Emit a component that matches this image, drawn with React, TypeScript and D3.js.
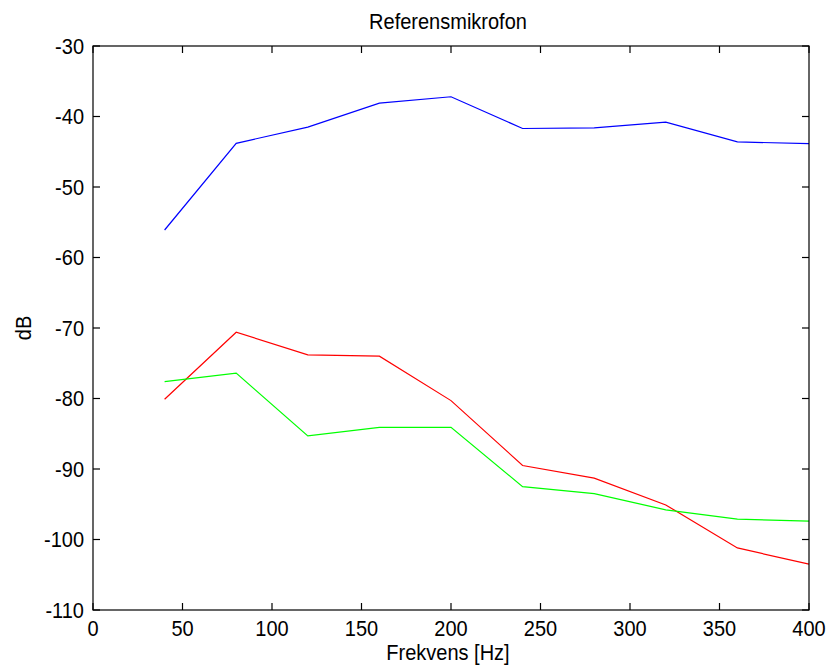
import React from "react";
import * as d3 from "d3";

const frequencies = [40, 80, 120, 160, 200, 240, 280, 320, 360, 400];
const blueSeries = [-56.1, -43.8, -41.5, -38.1, -37.2, -41.7, -41.6, -40.8, -43.6, -43.85];
const redSeries = [-80.1, -70.6, -73.8, -74.0, -80.3, -89.5, -91.3, -95.1, -101.2, -103.5];
const greenSeries = [-77.6, -76.4, -85.3, -84.1, -84.1, -92.5, -93.5, -95.8, -97.1, -97.4];
const xTicks = [0, 50, 100, 150, 200, 250, 300, 350, 400];
const yTicks = [-30, -40, -50, -60, -70, -80, -90, -100, -110];
const titleText = "Referensmikrofon";
const xLabel = "Frekvens [Hz]";
const yLabel = "dB";

const W = 827;
const H = 670;
const left = 93;
const right = 809;
const top = 46;
const bottom = 610;
const FONT = "'Liberation Sans', Arial, Helvetica, sans-serif";
const SY = 1.1;

export default function App() {
  const x = d3.scaleLinear().domain([0, 400]).range([left, right]);
  const y = d3.scaleLinear().domain([-110, -30]).range([bottom, top]);
  const line = d3
    .line<number>()
    .x((_, i) => x(frequencies[i]))
    .y((d) => y(d));
  const series = [
    { values: blueSeries, color: "#0000ff" },
    { values: redSeries, color: "#ff0000" },
    { values: greenSeries, color: "#00ff00" },
  ];
  const tl = 7;
  return (
    <svg
      width={W}
      height={H}
      style={{ position: "absolute", left: 0, top: 0, background: "#fff" }}
    >
      <rect x={0} y={0} width={W} height={H} fill="#fff" />
      {series.map((s, i) => (
        <path key={i} d={line(s.values) || ""} fill="none" stroke={s.color} strokeWidth={1.2} />
      ))}
      <rect x={left} y={top} width={right - left} height={bottom - top} fill="none" stroke="#000" strokeWidth={1.2} />
      {xTicks.map((t) => (
        <g key={"x" + t}>
          <line x1={x(t)} x2={x(t)} y1={bottom} y2={bottom - tl} stroke="#000" strokeWidth={1.2} />
          <line x1={x(t)} x2={x(t)} y1={top} y2={top + tl} stroke="#000" strokeWidth={1.2} />
          <g transform={`translate(${x(t)},${bottom + 26}) scale(1,${SY})`}>
            <text textAnchor="middle" fontFamily={FONT} fontSize={20} fill="#000">
              {t}
            </text>
          </g>
        </g>
      ))}
      {yTicks.map((t) => (
        <g key={"y" + t}>
          <line x1={left} x2={left + tl} y1={y(t)} y2={y(t)} stroke="#000" strokeWidth={1.2} />
          <line x1={right} x2={right - tl} y1={y(t)} y2={y(t)} stroke="#000" strokeWidth={1.2} />
          <g transform={`translate(${left - 9},${y(t)}) scale(1,${SY})`}>
            <text textAnchor="end" dy="0.36em" fontFamily={FONT} fontSize={20} fill="#000">
              {t}
            </text>
          </g>
        </g>
      ))}
      <g transform={`translate(448,29) scale(1,${SY})`}>
        <text textAnchor="middle" fontFamily={FONT} fontSize={20} fill="#000">
          {titleText}
        </text>
      </g>
      <g transform={`translate(448,660) scale(1,${SY})`}>
        <text textAnchor="middle" fontFamily={FONT} fontSize={20} fill="#000">
          {xLabel}
        </text>
      </g>
      <g transform={`translate(31,${(top + bottom) / 2}) rotate(-90) scale(1,${SY})`}>
        <text textAnchor="middle" fontFamily={FONT} fontSize={20} fill="#000">
          {yLabel}
        </text>
      </g>
    </svg>
  );
}
